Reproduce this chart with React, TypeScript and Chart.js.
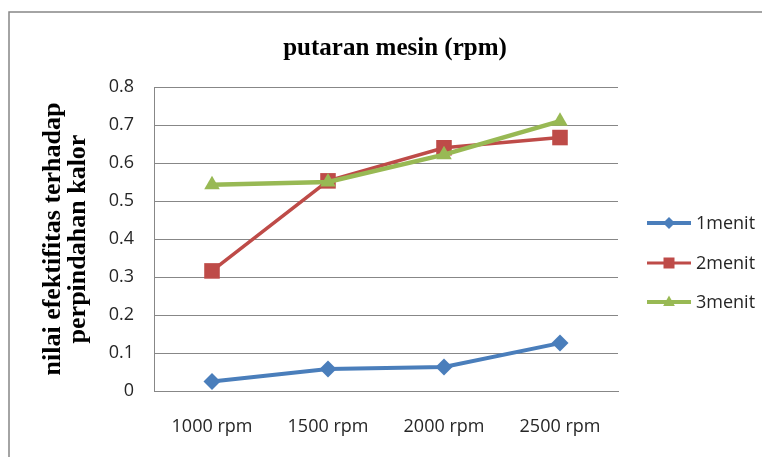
import React, { useEffect, useRef } from "react";
import { Chart, registerables } from "chart.js";

Chart.register(...registerables);

const categories = ["1000 rpm", "1500 rpm", "2000 rpm", "2500 rpm"];
const menit1 = [0.025, 0.058, 0.063, 0.126];
const menit2 = [0.316, 0.553, 0.64, 0.667];
const menit3 = [0.543, 0.55, 0.622, 0.71];
const seriesNames = ["1menit", "2menit", "3menit"];
const chartTitle = "putaran mesin (rpm)";
const yTitle = ["nilai efektifitas terhadap", "perpindahan kalor"];

const BLUE = "#4A7EBB";
const RED = "#BE4B48";
const GREEN = "#98B954";
const GRID = "#878787";
const TEXT = "#262626";

function drawMarker(ctx: CanvasRenderingContext2D, style: string, x: number, y: number, r: number, color: string) {
  ctx.save();
  ctx.fillStyle = color;
  ctx.beginPath();
  if (style === "rectRot") {
    ctx.moveTo(x, y - r);
    ctx.lineTo(x + r, y);
    ctx.lineTo(x, y + r);
    ctx.lineTo(x - r, y);
  } else if (style === "rect") {
    ctx.rect(x - r, y - r, 2 * r, 2 * r);
  } else {
    ctx.moveTo(x, y - r);
    ctx.lineTo(x + r * 0.9, y + r * 0.6);
    ctx.lineTo(x - r * 0.9, y + r * 0.6);
  }
  ctx.closePath();
  ctx.fill();
  ctx.restore();
}

const decorPlugin = {
  id: "decor",
  beforeDraw(chart: any) {
    const ctx = chart.ctx as CanvasRenderingContext2D;
    ctx.save();
    ctx.strokeStyle = GRID;
    ctx.lineWidth = 1.5;
    ctx.strokeRect(9, 12, 900, 600);
    ctx.restore();
  },
  afterDraw(chart: any) {
    const ctx = chart.ctx as CanvasRenderingContext2D;
    ctx.save();
    // title
    ctx.fillStyle = "#000";
    ctx.font = "bold 25px 'Liberation Serif', 'Times New Roman', serif";
    ctx.textAlign = "center";
    ctx.textBaseline = "middle";
    ctx.fillText(chartTitle, (chart.chartArea.left + chart.chartArea.right) / 2 + 9, 49);
    // legend
    const rows = [223, 263, 302];
    const markerSizes = [6, 5.5, 6.5];
    chart.data.datasets.forEach((ds: any, i: number) => {
      const y = rows[i];
      ctx.strokeStyle = ds.borderColor;
      ctx.lineWidth = i === 1 ? 3 : 4;
      ctx.beginPath();
      ctx.moveTo(647, y);
      ctx.lineTo(691, y);
      ctx.stroke();
      drawMarker(ctx, ds.pointStyle, 669, y, markerSizes[i], ds.borderColor);
      ctx.fillStyle = TEXT;
      ctx.font = "18px 'Open Sans', sans-serif";
      ctx.textAlign = "left";
      ctx.textBaseline = "middle";
      ctx.fillText(ds.label, 696, y + 1);
    });
    ctx.restore();
  },
};

export default function App() {
  const ref = useRef<HTMLCanvasElement>(null);
  useEffect(() => {
    if (!ref.current) return;
    const chart = new Chart(ref.current, {
      type: "line",
      data: {
        labels: categories,
        datasets: [
          {
            label: seriesNames[0],
            data: menit1,
            borderColor: BLUE,
            backgroundColor: BLUE,
            borderWidth: 4,
            pointStyle: "rectRot",
            pointRadius: 8.5,
            pointBorderWidth: 0,
            order: 3,
          },
          {
            label: seriesNames[1],
            data: menit2,
            borderColor: RED,
            backgroundColor: RED,
            borderWidth: 3.5,
            pointStyle: "rect",
            pointRadius: 11,
            pointBorderWidth: 0,
            order: 2,
          },
          {
            label: seriesNames[2],
            data: menit3,
            borderColor: GREEN,
            backgroundColor: GREEN,
            borderWidth: 4.5,
            pointStyle: "triangle",
            pointRadius: 9,
            pointBorderWidth: 0,
            order: 1,
          },
        ] as any,
      },
      options: {
        animation: false,
        responsive: true,
        maintainAspectRatio: false,
        layout: { padding: { top: 87, right: 144, left: 0, bottom: 0 } },
        plugins: {
          legend: { display: false },
          title: { display: false },
          tooltip: { enabled: false },
        },
        scales: {
          x: {
            offset: true,
            grid: { display: false, drawTicks: false },
            border: { display: true, color: GRID, width: 1 },
            ticks: {
              color: TEXT,
              padding: 25,
              font: { family: "'Open Sans', sans-serif", size: 18 },
              maxRotation: 0,
            },
            afterFit(scale: any) {
              scale.height = 66;
            },
          },
          y: {
            min: 0,
            max: 0.8,
            ticks: {
              stepSize: 0.1,
              color: TEXT,
              padding: 20,
              font: { family: "'Open Sans', sans-serif", size: 18 },
              callback: (v: any) => String(Number(Number(v).toFixed(1))),
            },
            grid: { color: GRID, lineWidth: 1, drawTicks: false },
            border: { display: true, color: GRID, width: 1 },
            title: {
              display: true,
              text: yTitle,
              color: "#000",
              font: { family: "'Liberation Serif', 'Times New Roman', serif", size: 26, weight: "bold", lineHeight: 0.96 },
              padding: { top: 41, bottom: 0 },
            },
            afterFit(scale: any) {
              scale.width = 154;
            },
          },
        },
      },
      plugins: [decorPlugin],
    });
    return () => chart.destroy();
  }, []);
  return (
    <div style={{ position: "fixed", left: 0, top: 0, width: 762, height: 457, background: "#fff" }}>
      <canvas ref={ref} />
    </div>
  );
}
